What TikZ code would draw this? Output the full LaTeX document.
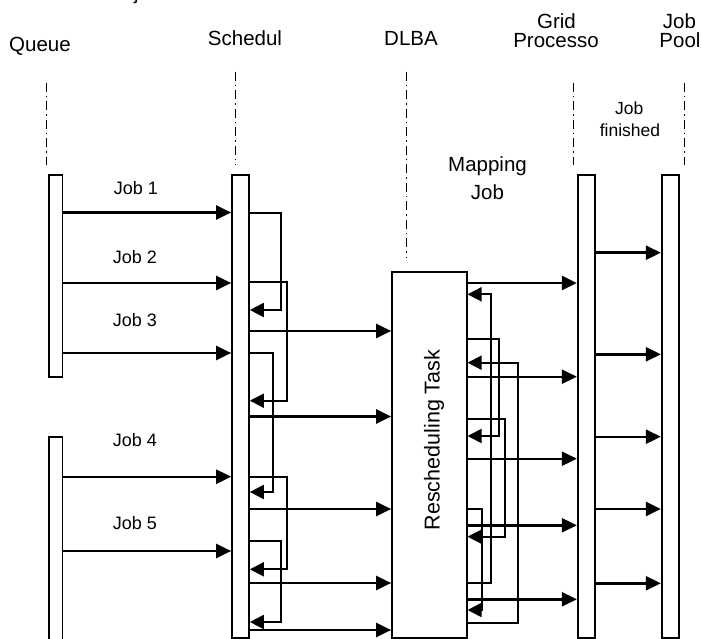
\documentclass[tikz,border=0pt]{standalone}
\usepackage{fontspec}
\setmainfont{Liberation Sans}
\usetikzlibrary{arrows.meta}
\begin{document}
\begin{tikzpicture}[x=1pt,y=-1pt,
  bar/.style={draw, fill=white, line width=1.7pt, inner sep=0pt, rectangle},
  msg/.style={line width=2.4pt, -{Triangle[length=15pt,width=14pt]}},
  selfmsg/.style={line width=1.9pt, -{Triangle[length=14pt,width=14pt]}},
  lifeline/.style={line width=0.9pt, dash pattern=on 9pt off 4pt on 1.5pt off 4pt},
  title/.style={font=\fontsize{20.5}{24}\selectfont, anchor=base, inner sep=0pt},
  lbl/.style={font=\fontsize{18}{22}\selectfont, anchor=base, inner sep=0pt},
]
\useasboundingbox (0,0) rectangle (702,639);

% titles
\node[title] (tQueue) at (40,52) {Queue};
\node[title] (tSched) at (245,45.7) {Schedul};
\node[title] (tDLBA) at (411,46) {DLBA};
\node[title] (tGrid1) at (556.5,28.5) {Grid};
\node[title] (tGrid2) at (556,47.3) {Processo};
\node[title] (tPool1) at (679.5,28.5) {Job};
\node[title] (tPool2) at (680,47.3) {Pool};
\node[title, anchor=base west] (frag) at (134,-0.5) {j};

% lifelines
\draw[lifeline] (46.7,83) -- (46.7,165);
\draw[lifeline] (235.7,72) -- (235.7,165);
\draw[lifeline] (406.7,72) -- (406.7,258);
\draw[lifeline] (573.3,83) -- (573.3,165);
\draw[lifeline] (684.3,83) -- (684.3,165);

% bars
\node[bar, minimum width=13.5pt, minimum height=201.7pt] (Q1) at (55.75,275.85) {};
\node[bar, minimum width=13.5pt, minimum height=208.3pt] (Q2) at (55.75,540.85) {};
\node[bar, minimum width=17pt, minimum height=463pt] (S) at (240.5,406.5) {};
\node[bar, minimum width=74.7pt, minimum height=365.7pt] (D) at (429.35,454.85) {};
\node[bar, minimum width=17.3pt, minimum height=463pt] (G) at (586.35,406.5) {};
\node[bar, minimum width=17.3pt, minimum height=463pt] (P) at (670.35,406.5) {};

\node[font=\fontsize{21.5}{24}\selectfont, rotate=90, anchor=base, inner sep=0pt] (rt) at (439.5,440) {Rescheduling Task};

% labels
\node[lbl] (l1) at (136,195) {Job 1};
\node[lbl] (l2) at (135,263.3) {Job 2};
\node[lbl] (l3) at (135,326.7) {Job 3};
\node[lbl] (l4) at (135,446.7) {Job 4};
\node[lbl] (l5) at (135,529) {Job 5};
\node[title] (map1) at (487.5,171.7) {Mapping};
\node[title] (map2) at (487.5,200) {Job};
\node[lbl, font=\fontsize{17.5}{20}\selectfont] (jf1) at (629.3,115) {Job};
\node[lbl, font=\fontsize{17.5}{20}\selectfont] (jf2) at (630,136.7) {finished};

% queue -> scheduler
\foreach \y in {212.5,283,353} \draw[msg] (Q1.east |- 0,\y) -- (S.west |- 0,\y);
\foreach \y in {476.7,551} \draw[msg] (Q2.east |- 0,\y) -- (S.west |- 0,\y);

% scheduler self loops
\draw[selfmsg] (S.east |- 0,212.7) -| (281,310) -- (S.east |- 0,310);
\draw[selfmsg] (S.east |- 0,282.3) -| (287.3,400.7) -- (S.east |- 0,400.7);
\draw[selfmsg] (S.east |- 0,353) -| (273.3,492) -- (S.east |- 0,492);
\draw[selfmsg] (S.east |- 0,476.7) -| (287.3,569.3) -- (S.east |- 0,569.3);
\draw[selfmsg] (S.east |- 0,540.7) -| (281,622) -- (S.east |- 0,622);

% scheduler -> DLBA
\foreach \y in {331,416.5,509,583,630} \draw[msg] (S.east |- 0,\y) -- (D.west |- 0,\y);

% DLBA self loops
\draw[selfmsg] (D.east |- 0,582.7) -| (490.7,294.3) -- (D.east |- 0,294.3);
\draw[selfmsg] (D.east |- 0,339) -| (499,436) -- (D.east |- 0,436);
\draw[selfmsg] (D.east |- 0,622.7) -| (517.7,362.7) -- (D.east |- 0,362.7);
\draw[selfmsg] (D.east |- 0,419.3) -| (505.3,536.7) -- (D.east |- 0,536.7);
\draw[selfmsg] (D.east |- 0,509) -| (481.7,610) -- (D.east |- 0,610);

% DLBA -> grid
\foreach \y in {283,376.7,458.7,525.3,599.3} \draw[msg] (D.east |- 0,\y) -- (G.west |- 0,\y);

% grid -> pool
\foreach \y in {252.7,354.3,436.7,509,583.3} \draw[msg] (G.east |- 0,\y) -- (P.west |- 0,\y);
\end{tikzpicture}
\end{document}
